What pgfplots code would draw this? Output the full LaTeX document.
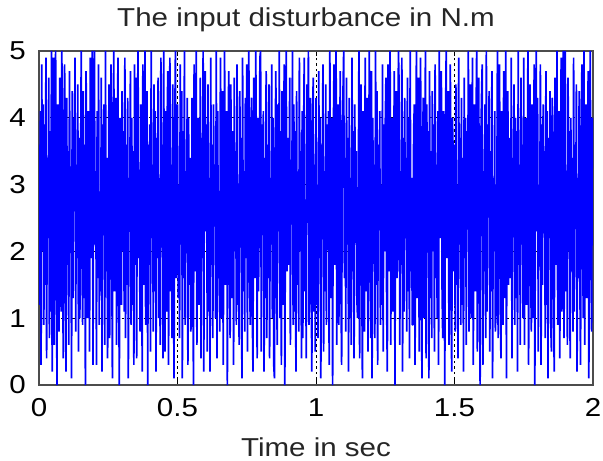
\documentclass[border=0pt]{standalone}
\usepackage{fontspec}
\setmainfont{Liberation Sans}[FakeStretch=1.14]
\usepackage{pgfplots}
\pgfplotsset{compat=1.18}
\usepackage{pgfplotstable}
\pgfplotstableread[row sep=\\, header=false]{
3.6\\1.2\\4.1\\0.3\\4.8\\2.0\\4.2\\0.9\\3.9\\1.5\\4.9\\0.4\\3.1\\2.2\\4.6\\0.7\\3.8\\1.1\\5.0\\0.2\\
2.7\\4.9\\0.6\\3.4\\5.0\\1.8\\0.0\\4.2\\2.9\\0.8\\4.6\\3.7\\1.1\\5.0\\2.3\\0.4\\3.9\\4.8\\1.5\\0.2\\
4.3\\1.8\\3.5\\0.6\\4.7\\2.4\\3.0\\0.1\\4.4\\1.3\\4.0\\2.6\\4.9\\0.8\\3.3\\1.9\\4.5\\0.5\\3.7\\1.0\\
3.1\\5.0\\2.0\\0.9\\4.4\\1.3\\3.6\\0.0\\4.7\\2.6\\1.0\\4.1\\3.3\\0.5\\4.9\\1.9\\2.8\\5.0\\0.3\\3.5\\
5.0\\2.1\\3.2\\0.3\\4.1\\1.6\\4.8\\0.9\\2.9\\1.4\\4.6\\0.2\\3.9\\2.3\\4.2\\0.6\\5.0\\1.7\\3.4\\0.4\\
1.6\\4.5\\0.7\\3.0\\4.8\\2.2\\0.1\\3.8\\5.0\\1.4\\2.5\\4.3\\0.6\\3.2\\4.9\\1.7\\0.0\\4.0\\2.9\\1.2\\
4.4\\2.0\\3.8\\1.1\\4.9\\0.7\\3.6\\1.5\\4.3\\0.1\\3.1\\2.5\\4.7\\0.9\\4.0\\1.2\\3.5\\0.3\\4.8\\1.8\\
4.6\\0.4\\3.7\\5.0\\1.9\\2.4\\0.8\\4.2\\3.4\\0.2\\4.8\\1.5\\3.0\\5.0\\0.9\\2.1\\4.4\\0.0\\3.6\\1.8\\
3.9\\0.5\\5.0\\2.2\\3.3\\0.8\\4.5\\1.4\\4.1\\0.2\\3.7\\1.9\\4.6\\1.0\\2.8\\0.6\\4.9\\2.4\\3.6\\0.4\\
5.0\\2.6\\0.5\\4.1\\1.1\\3.9\\4.7\\0.3\\2.3\\4.9\\1.4\\3.3\\0.7\\4.5\\2.0\\0.1\\3.8\\5.0\\1.6\\2.8\\
4.2\\1.3\\3.0\\0.7\\4.8\\2.1\\4.4\\0.1\\3.8\\1.6\\5.0\\0.9\\3.2\\2.0\\4.3\\0.3\\4.0\\1.5\\3.4\\0.8\\
0.9\\4.3\\3.1\\0.0\\4.8\\1.7\\2.5\\5.0\\0.6\\3.5\\4.0\\1.2\\2.9\\4.6\\0.4\\3.7\\1.9\\5.0\\0.2\\4.2\\
4.7\\2.3\\3.9\\0.5\\4.5\\1.1\\3.1\\0.2\\4.9\\1.8\\3.6\\0.7\\4.2\\2.6\\3.3\\1.0\\5.0\\0.4\\4.1\\1.7\\
2.2\\0.8\\4.9\\3.4\\1.0\\4.4\\0.3\\3.0\\5.0\\1.5\\2.7\\4.1\\0.0\\3.6\\4.7\\1.8\\0.7\\4.5\\2.4\\1.3\\
3.8\\0.3\\4.6\\2.0\\3.5\\0.9\\4.8\\1.2\\3.0\\0.6\\4.4\\2.2\\3.7\\0.1\\4.9\\1.4\\3.2\\0.8\\4.3\\1.9\\
4.8\\0.5\\3.2\\5.0\\2.1\\0.9\\3.9\\4.3\\1.1\\0.2\\4.6\\2.8\\1.6\\5.0\\3.3\\0.4\\4.0\\1.4\\2.6\\4.9\\
5.0\\0.5\\3.9\\2.5\\4.1\\0.2\\3.4\\1.3\\4.7\\0.7\\3.6\\1.6\\4.5\\0.4\\3.1\\2.1\\4.8\\1.0\\4.0\\0.3\\
0.1\\3.5\\4.7\\1.9\\0.6\\4.2\\2.3\\5.0\\1.0\\3.8\\0.3\\4.4\\2.9\\1.2\\4.8\\0.0\\3.1\\5.0\\1.7\\2.5\\
3.7\\1.8\\4.6\\0.6\\3.3\\2.4\\5.0\\0.9\\4.2\\1.1\\3.8\\0.2\\4.4\\1.5\\2.9\\0.8\\4.9\\2.0\\3.5\\0.4\\
4.1\\0.7\\3.6\\4.9\\1.4\\2.0\\0.4\\4.5\\3.0\\5.0\\0.9\\2.7\\4.3\\1.6\\0.2\\3.9\\4.6\\1.1\\3.3\\0.5\\
4.3\\1.2\\3.0\\0.7\\4.7\\1.9\\4.0\\0.1\\3.6\\2.3\\4.8\\0.5\\3.2\\1.4\\4.5\\0.9\\3.9\\2.6\\4.1\\0.3\\
5.0\\2.4\\1.3\\4.0\\0.0\\3.7\\4.8\\1.8\\2.2\\5.0\\0.6\\3.4\\4.2\\0.9\\2.8\\4.7\\1.5\\0.3\\3.8\\4.4\\
5.0\\1.6\\3.4\\0.8\\4.6\\2.1\\3.7\\0.2\\4.3\\1.0\\3.1\\0.6\\4.9\\1.7\\3.8\\0.4\\4.2\\2.2\\3.5\\1.3\\
1.0\\2.6\\5.0\\0.4\\3.2\\4.5\\1.9\\0.1\\4.1\\3.5\\0.8\\4.9\\2.0\\1.4\\4.3\\0.5\\3.0\\5.0\\2.3\\0.7\\
4.7\\0.1\\4.0\\1.9\\3.3\\0.7\\5.0\\1.5\\4.4\\0.3\\3.6\\2.4\\4.1\\0.9\\3.0\\1.2\\4.8\\0.5\\3.9\\2.0\\
3.9\\4.6\\1.2\\0.2\\4.8\\2.9\\1.7\\5.0\\0.6\\3.6\\4.0\\1.1\\2.4\\4.7\\0.0\\3.3\\4.4\\1.6\\2.1\\5.0\\
4.5\\0.6\\3.2\\1.8\\4.9\\0.2\\3.7\\1.1\\4.3\\2.5\\3.4\\0.8\\4.6\\1.4\\4.0\\0.4\\5.0\\1.7\\3.1\\0.9\\
0.9\\3.8\\4.2\\0.3\\2.7\\5.0\\1.3\\3.1\\4.6\\0.5\\2.0\\4.9\\1.8\\0.1\\3.7\\4.3\\1.0\\2.5\\5.0\\0.4\\
4.2\\2.3\\3.8\\0.1\\4.7\\1.3\\3.5\\0.7\\4.4\\2.0\\3.9\\0.5\\4.8\\1.6\\3.3\\1.0\\4.1\\0.3\\5.0\\2.2\\
3.4\\4.7\\1.5\\0.7\\4.1\\2.2\\0.0\\3.9\\5.0\\1.9\\2.8\\4.4\\0.6\\3.2\\4.8\\1.2\\0.2\\4.0\\3.5\\1.7\\
3.6\\0.8\\4.5\\1.5\\3.0\\0.4\\4.9\\2.1\\3.7\\0.9\\4.3\\1.2\\3.4\\0.2\\4.6\\1.9\\4.0\\0.6\\3.8\\2.4\\
5.0\\0.8\\2.6\\4.5\\1.0\\3.3\\4.9\\0.3\\2.1\\4.2\\1.4\\3.8\\5.0\\0.5\\2.9\\4.6\\1.6\\0.0\\3.6\\4.3\\
4.8\\0.3\\3.2\\1.7\\4.2\\0.7\\5.0\\1.1\\3.9\\2.6\\4.4\\0.5\\3.5\\1.4\\4.7\\0.1\\3.1\\2.0\\4.1\\0.8\\
1.1\\2.4\\5.0\\0.7\\3.0\\4.8\\1.9\\0.4\\4.1\\3.4\\0.9\\4.7\\2.2\\1.3\\5.0\\0.1\\3.7\\4.4\\1.5\\2.7\\
3.7\\1.6\\4.9\\0.4\\3.4\\2.3\\4.5\\0.9\\4.0\\1.3\\3.8\\0.2\\5.0\\1.8\\3.3\\0.6\\4.6\\2.1\\3.6\\1.0\\
4.9\\0.6\\3.5\\4.0\\1.2\\2.0\\5.0\\0.3\\3.9\\4.5\\1.7\\0.8\\4.2\\2.6\\1.0\\4.8\\0.0\\3.1\\5.0\\2.3\\
4.3\\0.5\\3.0\\1.9\\4.8\\0.3\\3.9\\1.5\\4.2\\2.5\\3.5\\0.7\\4.7\\1.2\\4.1\\0.1\\3.7\\2.2\\4.4\\0.9\\
0.5\\4.3\\3.6\\1.4\\0.2\\4.6\\2.8\\1.8\\5.0\\0.9\\3.3\\4.1\\0.4\\2.5\\4.9\\1.1\\3.8\\5.0\\0.7\\2.0\\
5.0\\1.4\\3.2\\0.6\\4.6\\2.0\\3.8\\0.4\\4.0\\1.7\\3.4\\0.8\\4.9\\1.1\\3.6\\2.4\\4.5\\0.2\\3.1\\1.6\\
4.4\\1.6\\0.3\\3.7\\4.8\\2.1\\1.0\\5.0\\0.6\\3.2\\4.2\\1.3\\2.9\\4.7\\0.1\\3.5\\5.0\\1.9\\0.8\\4.0\\
3.9\\
}\disturbance
\begin{document}
\begin{tikzpicture}
\useasboundingbox (-39bp,-76bp) rectangle (564bp,385bp);
\begin{axis}[
  at={(0,0)}, anchor=origin,
  scale only axis,
  width=554bp, height=334bp,
  xmin=0, xmax=2, ymin=0, ymax=5,
  xtick={0,0.5,1,1.5,2},
  xticklabels={0,0.5,1,1.5,2},
  ytick={0,1,2,3,4,5},
  yticklabels={0,1,2,3,4,5},
  font=\fontsize{26}{30}\selectfont,
  /pgf/number format/assume math mode=true,
  tick align=inside,
  major tick length=5bp,
  tick style={black, line width=0.6bp},
  grid=major,
  major grid style={black, line width=0.7bp, dash pattern=on 2.5bp off 3bp},
  axis line style={black!70, line width=1.3bp},
  xticklabel style={anchor=base, yshift=-31bp, inner sep=0pt},
  yticklabel style={anchor=east, inner sep=0pt, xshift=-13bp},
  title={The input disturbance in N.m},
  title style={at={(0.5,1)}, anchor=base, yshift=19bp, xshift=-10bp, inner sep=0pt, text=black!85},
  xlabel={Time in sec},
  xlabel style={at={(0.5,0)}, anchor=base, yshift=-71bp, inner sep=0pt, text=black!85},
]
\addplot[color={rgb,255:red,0;green,0;blue,255}, line width=1.7bp, line join=miter, miter limit=1, mark=none]
  table[x expr=\coordindex*0.0025, y index=0] {\disturbance};
\end{axis}
\end{tikzpicture}
\end{document}
